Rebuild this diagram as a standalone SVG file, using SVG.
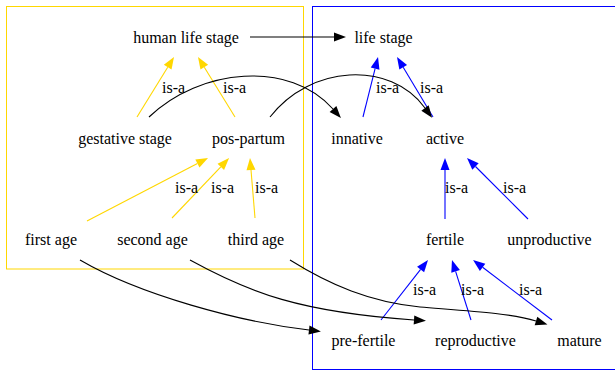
<svg xmlns="http://www.w3.org/2000/svg" width="615" height="371" viewBox="0 0 615 371">
<style>
text{font-family:"Liberation Serif","Times New Roman",serif;font-size:16px;fill:#000}
.n{text-anchor:middle}
.e{fill:none;stroke-width:1.1}
.k{stroke:#000}
.y{stroke:#ffd700}
.b{stroke:#0000ff}
.cl{fill:none;stroke-width:1}
</style>
<defs>
<marker id="ak" markerUnits="userSpaceOnUse" markerWidth="12" markerHeight="9" viewBox="0 0 12 9" refX="0" refY="4.5" orient="auto" overflow="visible"><path d="M0,0L12,4.5L0,9z" fill="#000"/></marker>
<marker id="ay" markerUnits="userSpaceOnUse" markerWidth="12" markerHeight="9" viewBox="0 0 12 9" refX="0" refY="4.5" orient="auto" overflow="visible"><path d="M0,0L12,4.5L0,9z" fill="#ffd700"/></marker>
<marker id="ab" markerUnits="userSpaceOnUse" markerWidth="12" markerHeight="9" viewBox="0 0 12 9" refX="0" refY="4.5" orient="auto" overflow="visible"><path d="M0,0L12,4.5L0,9z" fill="#0000ff"/></marker>
</defs>
<g id="clusters">
<rect id="cluster_human" class="cl" x="6.5" y="6.5" width="297" height="262.5" stroke="#ffd700"/>
<rect id="cluster_life" class="cl" x="312.5" y="6.5" width="310" height="363" stroke="#0000ff"/>
</g>
<g id="connectors">
<path class="e k" d="M250,37L334,37" marker-end="url(#ak)"/>
<path class="e y" d="M137,117L167.7,67.2" marker-end="url(#ay)"/>
<path class="e y" d="M235,117L204.3,67.2" marker-end="url(#ay)"/>
<path class="e b" d="M363,117L375.1,68.6" marker-end="url(#ab)"/>
<path class="e b" d="M433,117L403.2,67.3" marker-end="url(#ab)"/>
<path class="e k" d="M149,117C200,68 290,60 333,109" marker-end="url(#ak)"/>
<path class="e k" d="M270,117C310,65 390,60 425,108" marker-end="url(#ak)"/>
<path class="e y" d="M87,221L197.4,163.5" marker-end="url(#ay)"/>
<path class="e y" d="M172,218L220.8,166.8" marker-end="url(#ay)"/>
<path class="e y" d="M255,218L251,170" marker-end="url(#ay)"/>
<path class="e b" d="M445,219L445,170" marker-end="url(#ab)"/>
<path class="e b" d="M528,219L475.5,166.5" marker-end="url(#ab)"/>
<path class="e b" d="M381,320L420.6,269.4" marker-end="url(#ab)"/>
<path class="e b" d="M471,320L455.6,271.4" marker-end="url(#ab)"/>
<path class="e b" d="M552,320L482.6,267.3" marker-end="url(#ab)"/>
<path class="e k" d="M80,260C140,295 240,322 309,330" marker-end="url(#ak)"/>
<path class="e k" d="M190,260C250,293 300,312 414,320" marker-end="url(#ak)"/>
<path class="e k" d="M290,260C330,285 370,302 420,307C470,311 510,313 536,321" marker-end="url(#ak)"/>
</g>
<g id="edge-labels">
<text x="162" y="93">is-a</text>
<text x="223" y="93">is-a</text>
<text x="376" y="93">is-a</text>
<text x="420" y="93">is-a</text>
<text x="175" y="193">is-a</text>
<text x="211" y="193">is-a</text>
<text x="255" y="193">is-a</text>
<text x="445" y="193">is-a</text>
<text x="503" y="193">is-a</text>
<text x="413" y="295">is-a</text>
<text x="461" y="295">is-a</text>
<text x="519" y="295">is-a</text>
</g>
<g id="human_life_stage"><text class="n" x="186" y="43">human life stage</text></g>
<g id="life_stage"><text class="n" x="383.5" y="43">life stage</text></g>
<g id="gestative_stage"><text class="n" x="125" y="144">gestative stage</text></g>
<g id="pos_partum"><text class="n" x="248.5" y="144">pos-partum</text></g>
<g id="innative"><text class="n" x="357" y="144">innative</text></g>
<g id="active"><text class="n" x="445" y="144">active</text></g>
<g id="first_age"><text class="n" x="51" y="245">first age</text></g>
<g id="second_age"><text class="n" x="152.5" y="245">second age</text></g>
<g id="third_age"><text class="n" x="256" y="245">third age</text></g>
<g id="fertile"><text class="n" x="445" y="245">fertile</text></g>
<g id="unproductive"><text class="n" x="549.5" y="245">unproductive</text></g>
<g id="pre_fertile"><text class="n" x="363.5" y="346">pre-fertile</text></g>
<g id="reproductive"><text class="n" x="475.5" y="346">reproductive</text></g>
<g id="mature"><text class="n" x="579.5" y="346">mature</text></g>
</svg>
